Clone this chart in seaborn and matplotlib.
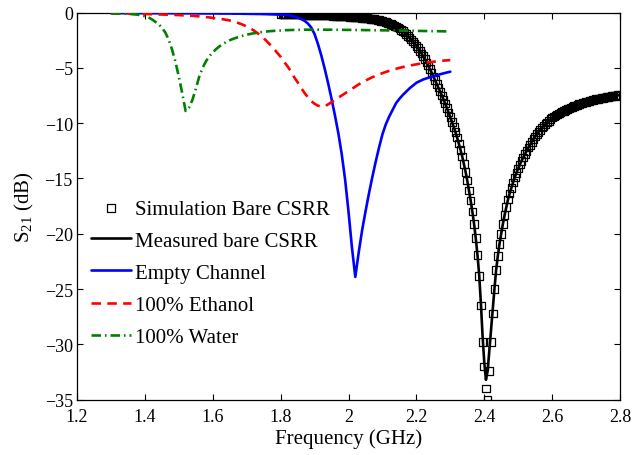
import numpy as np
import matplotlib
matplotlib.use("Agg")
import matplotlib.pyplot as plt
import seaborn as sns

# ---------------- data ----------------
sim_freq = np.round(np.linspace(1.8, 2.8, 201), 3)   # GHz, 5 MHz grid
sim_s21 = [
    -0.15, -0.15, -0.15, -0.16, -0.16, -0.16, -0.17, -0.17, -0.17, -0.18,
    -0.18, -0.18, -0.19, -0.19, -0.20, -0.20, -0.20, -0.21, -0.21, -0.22,
    -0.22, -0.23, -0.23, -0.24, -0.24, -0.25, -0.26, -0.26, -0.27, -0.28,
    -0.28, -0.29, -0.30, -0.31, -0.31, -0.32, -0.33, -0.34, -0.35, -0.36,
    -0.37, -0.38, -0.39, -0.40, -0.41, -0.43, -0.44, -0.45, -0.47, -0.49,
    -0.50, -0.52, -0.54, -0.56, -0.59, -0.61, -0.64, -0.67, -0.70, -0.74,
    -0.78, -0.82, -0.87, -0.92, -0.98, -1.04, -1.11, -1.19, -1.27, -1.36,
    -1.46, -1.57, -1.69, -1.82, -1.96, -2.11, -2.27, -2.44, -2.62, -2.81,
    -3.01, -3.22, -3.45, -3.69, -3.95, -4.22, -4.50, -4.80, -5.11, -5.43,
    -5.77, -6.10, -6.44, -6.78, -7.13, -7.49, -7.86, -8.24, -8.64, -9.05,
    -9.47, -9.90, -10.35, -10.80, -11.30, -11.85, -12.40, -13.00, -13.70, -14.40,
    -15.20, -16.10, -17.00, -18.00, -19.10, -20.40, -21.90, -23.80, -26.50, -29.80,
    -32.00, -34.00, -35.00, -32.40, -29.80, -27.20, -25.00, -23.30, -22.00, -20.90,
    -20.00, -19.10, -18.30, -17.60, -16.90, -16.35, -15.85, -15.35, -14.90, -14.50,
    -14.10, -13.75, -13.40, -13.10, -12.80, -12.50, -12.20, -11.95, -11.70, -11.45,
    -11.20, -11.00, -10.80, -10.60, -10.40, -10.25, -10.10, -9.95, -9.80, -9.65,
    -9.50, -9.40, -9.30, -9.20, -9.12, -9.04, -8.96, -8.88, -8.80, -8.73,
    -8.66, -8.59, -8.52, -8.46, -8.40, -8.34, -8.28, -8.23, -8.18, -8.13,
    -8.08, -8.03, -7.99, -7.95, -7.91, -7.87, -7.83, -7.80, -7.77, -7.74,
    -7.71, -7.68, -7.65, -7.62, -7.59, -7.56, -7.54, -7.52, -7.50, -7.48,
    -7.46,
]
meas_s21 = [
    -0.15, -0.15, -0.15, -0.16, -0.16, -0.16, -0.17, -0.17, -0.17, -0.18,
    -0.18, -0.18, -0.19, -0.19, -0.20, -0.20, -0.20, -0.21, -0.21, -0.22,
    -0.22, -0.23, -0.23, -0.24, -0.24, -0.25, -0.26, -0.26, -0.27, -0.28,
    -0.28, -0.29, -0.30, -0.31, -0.31, -0.32, -0.33, -0.34, -0.35, -0.36,
    -0.37, -0.38, -0.39, -0.40, -0.41, -0.43, -0.44, -0.45, -0.47, -0.49,
    -0.50, -0.52, -0.54, -0.56, -0.59, -0.61, -0.64, -0.67, -0.70, -0.74,
    -0.78, -0.82, -0.87, -0.92, -0.98, -1.04, -1.11, -1.19, -1.27, -1.36,
    -1.46, -1.57, -1.69, -1.82, -1.96, -2.11, -2.27, -2.44, -2.62, -2.81,
    -3.01, -3.22, -3.45, -3.69, -3.95, -4.22, -4.50, -4.80, -5.11, -5.43,
    -5.77, -6.10, -6.44, -6.78, -7.13, -7.49, -7.86, -8.24, -8.64, -9.05,
    -9.47, -9.90, -10.35, -10.80, -11.30, -11.85, -12.40, -13.00, -13.70, -14.40,
    -15.20, -16.10, -17.00, -18.00, -19.10, -20.40, -21.90, -23.70, -26.20, -29.20,
    -31.60, -33.20, -32.40, -30.60, -28.70, -26.80, -25.00, -23.30, -22.00, -20.90,
    -20.00, -19.10, -18.30, -17.60, -16.90, -16.35, -15.85, -15.35, -14.90, -14.50,
    -14.10, -13.75, -13.40, -13.10, -12.80, -12.50, -12.20, -11.95, -11.70, -11.45,
    -11.20, -11.00, -10.80, -10.60, -10.40, -10.25, -10.10, -9.95, -9.80, -9.65,
    -9.50, -9.40, -9.30, -9.20, -9.12, -9.04, -8.96, -8.88, -8.80, -8.73,
    -8.66, -8.59, -8.52, -8.46, -8.40, -8.34, -8.28, -8.23, -8.18, -8.13,
    -8.08, -8.03, -7.99, -7.95, -7.91, -7.87, -7.83, -7.80, -7.77, -7.74,
    -7.71, -7.68, -7.65, -7.62, -7.59, -7.56, -7.54, -7.52, -7.50, -7.48,
    -7.46,
]

chan_freq = np.round(np.linspace(1.3, 2.3, 101), 2)  # GHz, 10 MHz grid
empty_s21 = [
    -0.05, -0.05, -0.05, -0.05, -0.05, -0.05, -0.05, -0.05, -0.05, -0.05,
    -0.05, -0.05, -0.06, -0.06, -0.06, -0.06, -0.06, -0.06, -0.06, -0.07,
    -0.07, -0.07, -0.07, -0.07, -0.07, -0.07, -0.08, -0.08, -0.08, -0.08,
    -0.08, -0.08, -0.09, -0.09, -0.09, -0.09, -0.10, -0.10, -0.10, -0.11,
    -0.11, -0.12, -0.12, -0.13, -0.13, -0.14, -0.15, -0.16, -0.17, -0.18,
    -0.19, -0.20, -0.22, -0.28, -0.36, -0.46, -0.58, -0.74, -0.98, -1.35,
    -1.95, -2.85, -3.90, -5.10, -6.40, -7.80, -9.30, -10.90, -12.80, -15.10,
    -18.00, -21.20, -23.90, -21.70, -19.70, -18.00, -16.40, -14.90, -13.50, -12.20,
    -11.00, -10.10, -9.40, -8.80, -8.20, -7.80, -7.45, -7.15, -6.85, -6.60,
    -6.35, -6.20, -6.05, -5.95, -5.85, -5.75, -5.67, -5.58, -5.50, -5.42,
    -5.35,
]
ethanol_s21 = [
    -0.07, -0.07, -0.08, -0.08, -0.09, -0.09, -0.10, -0.10, -0.11, -0.12,
    -0.13, -0.14, -0.15, -0.16, -0.17, -0.18, -0.19, -0.20, -0.21, -0.22,
    -0.23, -0.25, -0.26, -0.28, -0.30, -0.32, -0.35, -0.38, -0.41, -0.44,
    -0.48, -0.52, -0.56, -0.61, -0.66, -0.72, -0.80, -0.89, -1.00, -1.12,
    -1.26, -1.42, -1.60, -1.82, -2.05, -2.32, -2.62, -2.94, -3.28, -3.64,
    -4.00, -4.45, -4.85, -5.30, -5.85, -6.30, -6.80, -7.25, -7.65, -8.00,
    -8.25, -8.42, -8.50, -8.48, -8.30, -8.10, -7.90, -7.70, -7.50, -7.30,
    -7.10, -6.90, -6.70, -6.50, -6.30, -6.15, -6.00, -5.85, -5.72, -5.60,
    -5.48, -5.37, -5.27, -5.18, -5.09, -5.00, -4.93, -4.86, -4.80, -4.74,
    -4.68, -4.63, -4.58, -4.53, -4.49, -4.45, -4.41, -4.38, -4.35, -4.32,
    -4.30,
]
water_s21 = [
    -0.07, -0.08, -0.09, -0.10, -0.11, -0.12, -0.14, -0.17, -0.20, -0.25,
    -0.33, -0.43, -0.60, -0.82, -1.05, -1.36, -1.80, -2.45, -3.35, -4.45,
    -5.80, -7.30, -8.90, -8.60, -7.90, -6.90, -5.80, -5.00, -4.40, -3.95,
    -3.60, -3.30, -3.05, -2.85, -2.65, -2.50, -2.38, -2.27, -2.17, -2.08,
    -2.00, -1.94, -1.88, -1.83, -1.78, -1.74, -1.71, -1.68, -1.66, -1.64,
    -1.62, -1.60, -1.59, -1.58, -1.57, -1.56, -1.56, -1.55, -1.55, -1.55,
    -1.55, -1.55, -1.55, -1.55, -1.55, -1.55, -1.56, -1.56, -1.56, -1.57,
    -1.57, -1.57, -1.58, -1.58, -1.58, -1.59, -1.59, -1.60, -1.60, -1.60,
    -1.61, -1.61, -1.62, -1.62, -1.63, -1.63, -1.64, -1.64, -1.65, -1.65,
    -1.66, -1.66, -1.67, -1.67, -1.68, -1.68, -1.69, -1.69, -1.70, -1.70,
    -1.71,
]

series_labels = ["Simulation Bare CSRR", "Measured bare CSRR", "Empty Channel",
                 "100% Ethanol", "100% Water"]
x_ticks = [1.2, 1.4, 1.6, 1.8, 2.0, 2.2, 2.4, 2.6, 2.8]
x_ticklabels = ["1.2", "1.4", "1.6", "1.8", "2", "2.2", "2.4", "2.6", "2.8"]
y_ticks = [0, -5, -10, -15, -20, -25, -30, -35]
y_ticklabels = ["0", "\u22125", "\u221210", "\u221215", "\u221220", "\u221225",
                "\u221230", "\u221235"]

# ---------------- style ----------------
sns.set_style("ticks")
plt.rcParams["font.family"] = ["Liberation Serif", "DejaVu Serif"]
plt.rcParams["mathtext.fontset"] = "custom"
plt.rcParams["mathtext.rm"] = "Liberation Serif"
plt.rcParams["mathtext.it"] = "Liberation Serif:italic"
for k in ["text.color", "axes.labelcolor", "xtick.color", "ytick.color",
          "axes.edgecolor"]:
    plt.rcParams[k] = "black"

fig = plt.figure(figsize=(6.42, 4.56), dpi=100)
ax = fig.add_axes([0.12, 0.1213, 0.8457, 0.849])

sns.scatterplot(x=sim_freq, y=sim_s21, marker="s", s=30, facecolor="none",
                edgecolor="black", linewidth=0.9, label=series_labels[0],
                ax=ax, zorder=2)
sns.lineplot(x=sim_freq, y=meas_s21, color="black", lw=1.9,
             label=series_labels[1], ax=ax, sort=False, estimator=None, zorder=3)
sns.lineplot(x=chan_freq, y=empty_s21, color="#0000ff", lw=1.9,
             label=series_labels[2], ax=ax, sort=False, estimator=None, zorder=4)
sns.lineplot(x=chan_freq, y=ethanol_s21, color="#ff0000", lw=1.9,
             linestyle=(0, (3.6, 2.4)), label=series_labels[3], ax=ax,
             sort=False, estimator=None, zorder=4)
sns.lineplot(x=chan_freq, y=water_s21, color="#008000", lw=1.9,
             linestyle=(0, (3.6, 1.5, 0.6, 1.5)), label=series_labels[4], ax=ax,
             sort=False, estimator=None, zorder=4)

ax.set_xlim(1.2, 2.8)
ax.set_ylim(-35, 0)
ax.set_xticks(x_ticks)
ax.set_xticklabels(x_ticklabels)
ax.set_yticks(y_ticks)
ax.set_yticklabels(y_ticklabels)
ax.tick_params(direction="in", top=True, right=True, length=4, width=0.8,
               labelsize=13)
ax.tick_params(axis="x", pad=6)
ax.tick_params(axis="y", pad=3)
for sp in ax.spines.values():
    sp.set_visible(True)
    sp.set_linewidth(0.9)
    sp.set_color("black")

ax.set_xlabel("Frequency (GHz)", fontsize=15, labelpad=2)
ax.set_ylabel(r"S$_{\mathrm{21}}$ (dB)", fontsize=15, labelpad=6)

ax.legend(loc="upper left", bbox_to_anchor=(0.011, 0.54), frameon=False,
          fontsize=15, handlelength=1.9, labelspacing=0.6, borderaxespad=0,
          handletextpad=0.2, borderpad=0.4)

fig.savefig("out.png", dpi=100)
